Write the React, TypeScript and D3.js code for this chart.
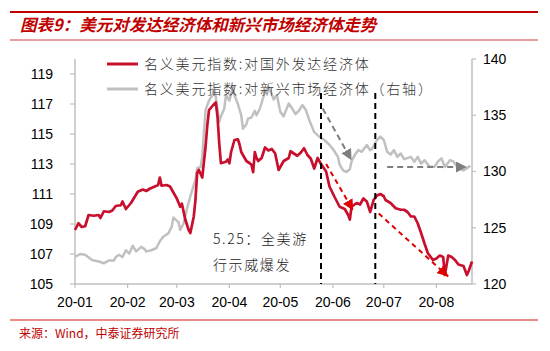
import React from 'react'
import * as d3 from 'd3'

// 名义美元指数:对国外发达经济体 (左轴)
const devSeries: [string, number][] = [
  ['01-01', 108.6], ['01-03', 109.05], ['01-05', 108.8], ['01-07', 108.85], ['01-09', 109.6],
  ['01-12', 109.55], ['01-15', 109.6], ['01-16', 109.4], ['01-18', 109.85], ['01-21', 109.8],
  ['01-23', 109.9], ['01-25', 110.2], ['01-28', 110.25], ['01-29', 110.5], ['01-31', 110.0],
  ['02-03', 110.4], ['02-07', 111.15], ['02-10', 111.3], ['02-12', 111.2], ['02-14', 111.35],
  ['02-17', 111.5], ['02-19', 111.6], ['02-20', 112.1], ['02-21', 111.55], ['02-24', 111.6],
  ['02-26', 111.5], ['02-27', 111.3], ['03-01', 110.7], ['03-03', 110.15], ['03-04', 110.35],
  ['03-06', 109.3], ['03-08', 108.6], ['03-09', 108.4], ['03-11', 109.5], ['03-12', 110.6],
  ['03-13', 112.4], ['03-14', 112.6], ['03-16', 112.1], ['03-18', 114.2], ['03-19', 115.6],
  ['03-20', 116.6], ['03-23', 117.0], ['03-24', 117.1], ['03-25', 116.15], ['03-26', 114.4],
  ['03-27', 113.05], ['03-30', 113.15], ['03-31', 113.3], ['04-01', 113.05], ['04-02', 113.8],
  ['04-04', 114.6], ['04-06', 114.65], ['04-07', 114.3], ['04-08', 113.8], ['04-09', 113.6],
  ['04-11', 113.2], ['04-13', 113.05], ['04-14', 112.95], ['04-15', 112.45], ['04-16', 113.8],
  ['04-17', 113.4], ['04-18', 113.2], ['04-20', 113.4], ['04-22', 114.1], ['04-24', 113.9],
  ['04-26', 114.0], ['04-28', 113.7], ['04-30', 112.6], ['05-03', 113.2], ['05-06', 113.4],
  ['05-07', 113.85], ['05-09', 113.7], ['05-11', 113.55], ['05-13', 113.75], ['05-15', 114.05],
  ['05-17', 113.6], ['05-19', 113.35], ['05-21', 112.7], ['05-23', 113.4], ['05-25', 113.0],
  ['05-28', 112.5], ['05-30', 111.5], ['06-02', 110.8], ['06-05', 110.15], ['06-08', 110.0],
  ['06-10', 109.6], ['06-11', 109.3], ['06-12', 110.15], ['06-15', 110.4], ['06-17', 110.3],
  ['06-19', 110.7], ['06-21', 110.5], ['06-23', 109.8], ['06-25', 110.6], ['06-27', 110.9],
  ['06-29', 111.0], ['07-01', 110.85], ['07-02', 110.6], ['07-05', 110.4], ['07-08', 110.05],
  ['07-11', 109.95], ['07-13', 109.95], ['07-15', 109.8], ['07-17', 109.5], ['07-19', 109.5],
  ['07-21', 109.05], ['07-23', 108.4], ['07-25', 107.7], ['07-27', 107.05], ['07-30', 106.6],
  ['08-01', 106.7], ['08-03', 106.9], ['08-05', 106.8], ['08-06', 105.6], ['08-08', 106.9],
  ['08-10', 106.8], ['08-12', 106.6], ['08-14', 106.3], ['08-17', 106.2], ['08-19', 105.6],
  ['08-20', 105.85], ['08-22', 106.5],
]

// 名义美元指数:对新兴市场经济体 (右轴)
const emSeries: [string, number][] = [
  ['01-01', 122.4], ['01-04', 122.67], ['01-07', 122.6], ['01-11', 122.13], ['01-15', 122.0],
  ['01-18', 121.84], ['01-21', 122.1], ['01-24', 122.1], ['01-25', 122.4], ['01-27', 122.6],
  ['01-29', 122.4], ['01-31', 123.0], ['02-02', 122.7], ['02-04', 123.4], ['02-06', 122.9],
  ['02-09', 123.3], ['02-11', 123.1], ['02-12', 122.9], ['02-15', 123.0], ['02-18', 123.2],
  ['02-20', 123.8], ['02-22', 124.2], ['02-25', 124.5], ['02-27', 125.1], ['02-28', 125.9],
  ['03-02', 125.5], ['03-03', 124.8], ['03-05', 125.4], ['03-07', 126.7], ['03-09', 127.8],
  ['03-10', 128.3], ['03-12', 129.25], ['03-13', 130.3], ['03-15', 130.4], ['03-16', 131.3],
  ['03-17', 133.5], ['03-18', 135.5], ['03-20', 136.3], ['03-22', 136.8], ['03-23', 137.4],
  ['03-24', 136.6], ['03-26', 134.4], ['03-27', 134.9], ['03-29', 135.6], ['03-30', 136.8],
  ['04-01', 136.3], ['04-03', 137.5], ['04-04', 136.8], ['04-06', 136.0], ['04-08', 135.0],
  ['04-09', 133.8], ['04-11', 134.2], ['04-12', 134.7], ['04-14', 134.8], ['04-16', 135.4],
  ['04-17', 135.0], ['04-19', 135.6], ['04-21', 136.6], ['04-22', 137.1], ['04-24', 137.5],
  ['04-26', 136.9], ['04-27', 136.4], ['04-29', 136.8], ['05-01', 135.3], ['05-03', 134.9],
  ['05-04', 135.3], ['05-06', 136.05], ['05-08', 135.6], ['05-10', 135.1], ['05-12', 135.4],
  ['05-14', 135.9], ['05-16', 135.5], ['05-18', 134.6], ['05-21', 133.5], ['05-24', 133.1],
  ['05-27', 132.8], ['05-30', 132.36], ['06-01', 132.0], ['06-04', 131.3], ['06-05', 130.6],
  ['06-07', 130.1], ['06-09', 129.95], ['06-11', 130.2], ['06-12', 130.9], ['06-14', 131.5],
  ['06-16', 131.9], ['06-18', 131.75], ['06-21', 132.36], ['06-23', 131.9], ['06-24', 132.0],
  ['06-27', 132.8], ['06-29', 133.1], ['07-01', 132.8], ['07-03', 131.76], ['07-05', 131.5],
  ['07-07', 131.9], ['07-09', 131.3], ['07-11', 131.6], ['07-13', 131.1], ['07-17', 131.3],
  ['07-19', 130.87], ['07-21', 131.3], ['07-23', 130.7], ['07-25', 131.0], ['07-28', 130.43],
  ['07-31', 130.43], ['08-02', 130.9], ['08-04', 131.17], ['08-06', 130.4], ['08-09', 131.0],
  ['08-11', 130.9], ['08-14', 130.3], ['08-17', 130.1], ['08-19', 130.3], ['08-21', 130.5],
]

const leftTicks = [105, 107, 109, 111, 113, 115, 117, 119]
const rightTicks = [120, 125, 130, 135, 140]
const monthTicks = ['01-01', '02-01', '03-01', '04-01', '05-01', '06-01', '07-01', '08-01']
const monthLabels = ['20-01', '20-02', '20-03', '20-04', '20-05', '20-06', '20-07', '20-08']
const eventDates = ['05-25', '06-26']
const emArrows: [string, number][][] = [
  [['05-26', 135.6], ['06-12', 131.0]],
  [['07-03', 130.4], ['08-19', 130.4]],
]
const devArrows: [string, number][][] = [
  [['05-28', 113.0], ['06-13', 109.9]],
  [['06-28', 109.7], ['08-08', 105.5]],
]

const W = 550
const H = 351
const RED = '#c8102e'
const GREY = '#c0c0c0'
const AXIS = '#bfbfbf'
const CJK = '"Noto Sans CJK SC", "Noto Sans", sans-serif'
const NUM = '"Liberation Sans", Arial, sans-serif'

const parse = (s: string) => new Date(`2020-${s}T00:00:00`)

export default function App() {
  const plot = { left: 75, right: 472, top: 59, bottom: 284 }

  const x = d3.scaleTime()
    .domain([parse('01-01'), parse('08-22')])
    .range([plot.left, plot.right])
  const yL = d3.scaleLinear().domain([105, 120]).range([plot.bottom, plot.top])
  const yR = d3.scaleLinear().domain([120, 140]).range([plot.bottom, plot.top])

  const devLine = d3.line<[string, number]>()
    .x(d => x(parse(d[0])))
    .y(d => yL(d[1]))
  const emLine = d3.line<[string, number]>()
    .x(d => x(parse(d[0])))
    .y(d => yR(d[1]))

  return (
    <svg width={W} height={H} style={{ position: 'absolute', left: 0, top: 0, background: '#fff' }}>
      <defs>
        <marker id="headGrey" viewBox="0 0 10 10" refX="10" refY="5" markerWidth="11" markerHeight="11"
          markerUnits="userSpaceOnUse" orient="auto">
          <path d="M0,0 L10,5 L0,10 z" fill="#7f7f7f" />
        </marker>
        <marker id="headRed" viewBox="0 0 10 10" refX="10" refY="5" markerWidth="11" markerHeight="11"
          markerUnits="userSpaceOnUse" orient="auto">
          <path d="M0,0 L10,5 L0,10 z" fill="#e00000" />
        </marker>
      </defs>

      {/* title */}
      <line x1={10} x2={538} y1={12} y2={12} stroke="#c00000" strokeWidth={2} />
      <text x={20} y={31} fill="#c00000" fontFamily={CJK} fontSize={16.5} fontWeight="bold" fontStyle="italic">
        图表9：美元对发达经济体和新兴市场经济体走势
      </text>
      <line x1={10} x2={538} y1={40} y2={40} stroke="#d04040" strokeWidth={1} />

      {/* axes */}
      <line x1={plot.left} x2={plot.left} y1={plot.top} y2={plot.bottom} stroke={AXIS} strokeWidth={1.5} />
      <line x1={plot.right} x2={plot.right} y1={plot.top} y2={plot.bottom} stroke={AXIS} strokeWidth={1.5} />
      <line x1={plot.left} x2={plot.right} y1={plot.bottom} y2={plot.bottom} stroke={AXIS} strokeWidth={1.5} />

      {leftTicks.map(t => (
        <g key={'l' + t}>
          <line x1={plot.left - 5} x2={plot.left} y1={yL(t)} y2={yL(t)} stroke={AXIS} strokeWidth={1.2} />
          <text x={53} y={yL(t)} dy="0.35em" textAnchor="end" fontFamily={NUM} fontSize={14} fill="#000">{t}</text>
        </g>
      ))}
      {rightTicks.map(t => (
        <g key={'r' + t}>
          <line x1={plot.right} x2={plot.right + 4} y1={yR(t)} y2={yR(t)} stroke={AXIS} strokeWidth={1.2} />
          <text x={483} y={yR(t)} dy="0.35em" textAnchor="start" fontFamily={NUM} fontSize={14} fill="#000">{t}</text>
        </g>
      ))}
      {monthTicks.map((m, i) => (
        <g key={m}>
          <line x1={x(parse(m))} x2={x(parse(m))} y1={plot.bottom} y2={plot.bottom + 4} stroke={AXIS} strokeWidth={1.2} />
          <text x={x(parse(m))} y={307} textAnchor="middle" fontFamily={NUM} fontSize={14} fill="#000">{monthLabels[i]}</text>
        </g>
      ))}

      {/* series */}
      <path d={emLine(emSeries) || ''} fill="none" stroke={GREY} strokeWidth={2.5} strokeLinejoin="round" />
      <path d={devLine(devSeries) || ''} fill="none" stroke={RED} strokeWidth={2.7} strokeLinejoin="round" />

      {/* event lines */}
      {eventDates.map(d => (
        <line key={d} x1={x(parse(d))} x2={x(parse(d))} y1={93} y2={plot.bottom}
          stroke="#000" strokeWidth={2} strokeDasharray="6,4" />
      ))}

      {/* trend arrows */}
      {emArrows.map((a, i) => (
        <line key={'ea' + i} x1={x(parse(a[0][0]))} y1={yR(a[0][1])} x2={x(parse(a[1][0]))} y2={yR(a[1][1])}
          stroke="#7f7f7f" strokeWidth={2} strokeDasharray="6,4" markerEnd="url(#headGrey)" />
      ))}
      {devArrows.map((a, i) => (
        <line key={'da' + i} x1={x(parse(a[0][0]))} y1={yL(a[0][1])} x2={x(parse(a[1][0]))} y2={yL(a[1][1])}
          stroke="#e00000" strokeWidth={2} strokeDasharray="5,4" markerEnd="url(#headRed)" />
      ))}

      {/* legend */}
      <line x1={107} x2={138} y1={64} y2={64} stroke={RED} strokeWidth={3} />
      <text x={144} y={64} dy="0.35em" fontFamily={CJK} fontSize={14} fontWeight={300} letterSpacing={1.8} fill="#333">
        名义美元指数:对国外发达经济体
      </text>
      <line x1={107} x2={138} y1={89} y2={89} stroke={GREY} strokeWidth={3} />
      <text x={144} y={89} dy="0.35em" fontFamily={CJK} fontSize={14} fontWeight={300} letterSpacing={1.8} fill="#333">
        名义美元指数:对新兴市场经济体（右轴）
      </text>

      {/* annotation */}
      <text x={213} y={239} dy="0.35em" fontFamily={CJK} fontSize={14} fontWeight={300} letterSpacing={1.6} fill="#222">5.25：全美游</text>
      <text x={213} y={265} dy="0.35em" fontFamily={CJK} fontSize={14} fontWeight={300} letterSpacing={1.6} fill="#222">行示威爆发</text>

      {/* source */}
      <line x1={10} x2={538} y1={320} y2={320} stroke="#e06666" strokeWidth={1.5} />
      <text x={19} y={338} fontFamily={CJK} fontSize={12} fill="#c00000">来源：Wind，中泰证券研究所</text>
    </svg>
  )
}
